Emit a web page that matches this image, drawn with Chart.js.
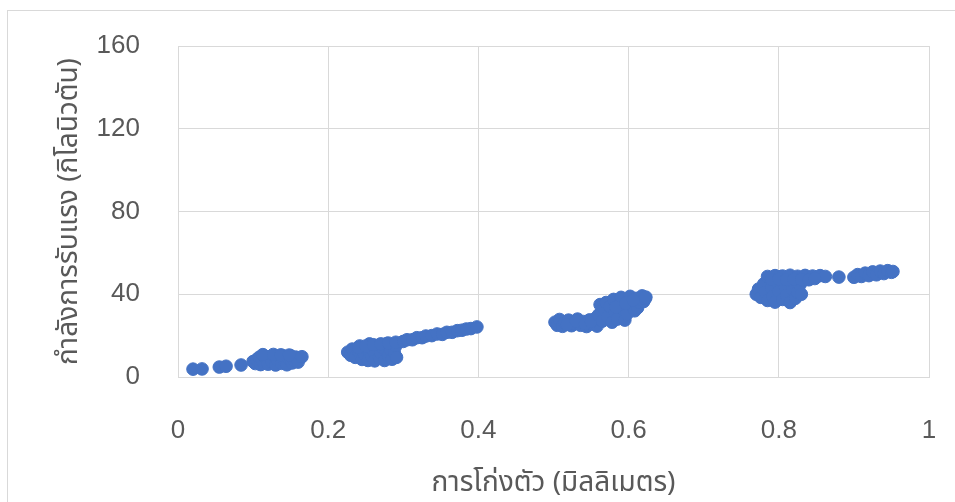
<!DOCTYPE html>
<html>
<head>
<meta charset="utf-8">
<script src="https://cdn.jsdelivr.net/npm/chart.js@4/dist/chart.umd.min.js"></script>
<style>
  html, body { margin: 0; padding: 0; background: #ffffff; }
  #wrap { width: 955px; height: 502px; position: relative; }
</style>
</head>
<body>
<div id="wrap"><canvas id="c" width="955" height="502"></canvas></div>
<script>
// Deflection (mm) and load capacity (kN), one entry per recorded reading
const deflectionMm = [
  // first loading stage
  0.020, 0.032, 0.055, 0.064, 0.084,
  0.100, 0.103, 0.105, 0.108, 0.110, 0.112, 0.115, 0.118, 0.120, 0.122,
  0.125, 0.128, 0.130, 0.132, 0.135, 0.138, 0.140, 0.142, 0.145, 0.147,
  0.150, 0.152, 0.155, 0.157, 0.160, 0.165,
  0.113, 0.127, 0.137, 0.148,
  // second loading stage
  0.226, 0.230, 0.232, 0.236, 0.240, 0.242, 0.245, 0.248, 0.250, 0.253,
  0.255, 0.258, 0.260, 0.262, 0.265, 0.268, 0.270, 0.272, 0.275, 0.278,
  0.280, 0.283, 0.285, 0.288, 0.290, 0.291,
  0.240, 0.250, 0.260, 0.270, 0.280, 0.290,
  0.300, 0.305, 0.312, 0.318, 0.325, 0.330, 0.338, 0.345, 0.352, 0.358,
  0.365, 0.372, 0.378, 0.384, 0.390, 0.398,
  // third loading stage
  0.502, 0.505, 0.508, 0.512, 0.515, 0.520, 0.524, 0.528, 0.532, 0.536,
  0.540, 0.544, 0.548, 0.552, 0.556, 0.558,
  0.518, 0.530, 0.542, 0.550,
  0.560, 0.562, 0.565, 0.568, 0.570, 0.572, 0.575, 0.578, 0.580, 0.582,
  0.585, 0.588, 0.590, 0.592, 0.595, 0.598, 0.600, 0.602, 0.605, 0.608,
  0.610, 0.612, 0.615, 0.618, 0.620, 0.622, 0.623,
  0.583, 0.596, 0.606,
  // fourth loading stage
  0.770, 0.773, 0.776, 0.780, 0.782, 0.785, 0.788, 0.790, 0.792, 0.795,
  0.798, 0.800, 0.802, 0.805, 0.808, 0.810, 0.812, 0.815, 0.818, 0.820,
  0.822, 0.825, 0.828, 0.830, 0.832,
  0.785, 0.795, 0.805, 0.815, 0.825, 0.835, 0.845, 0.855, 0.862,
  0.790, 0.800, 0.810, 0.820, 0.830,
  0.840, 0.848, 0.880,
  0.900, 0.905, 0.910, 0.915, 0.920, 0.925, 0.930, 0.935, 0.940, 0.945,
  0.950, 0.952
];

const forceKn = [
  // first loading stage
  3.8, 3.9, 4.8, 5.2, 5.8,
  7.5, 6.5, 8.5, 9.5, 6.0, 7.8, 10.0, 8.8, 6.2, 9.8,
  7.2, 10.4, 5.8, 8.4, 9.9, 6.6, 10.2, 7.6, 5.9, 9.0,
  10.3, 6.8, 8.0, 9.6, 7.2, 9.8,
  10.8, 10.9, 10.7, 10.6,
  // second loading stage
  12.0, 10.5, 13.5, 9.5, 12.5, 15.0, 8.5, 11.0, 14.0, 8.0,
  16.0, 10.0, 12.8, 7.8, 15.2, 9.2, 11.6, 14.4, 8.0, 16.2,
  10.4, 13.0, 8.6, 11.8, 15.0, 9.5,
  14.2, 15.0, 15.6, 16.0, 16.4, 16.8,
  17.2, 18.0, 18.0, 19.0, 19.0, 19.8, 20.0, 20.8, 20.6, 21.6,
  21.6, 22.4, 22.6, 23.2, 23.4, 24.2,
  // third loading stage
  26.5, 25.0, 27.8, 24.5, 26.2, 27.5, 24.8, 26.0, 28.0, 25.0,
  26.8, 24.4, 27.6, 25.6, 28.4, 24.6,
  25.4, 27.0, 25.8, 26.8,
  30.0, 35.0, 27.0, 32.5, 36.0, 29.0, 34.0, 26.5, 37.5, 31.0,
  28.0, 35.5, 38.5, 33.0, 27.5, 30.5, 37.0, 39.0, 34.5, 32.0,
  38.0, 33.5, 36.0, 39.2, 36.5, 37.8, 38.6,
  33.8, 35.8, 37.2,
  // fourth loading stage
  40.0, 42.5, 38.5, 45.0, 41.0, 37.0, 47.5, 43.0, 39.0, 36.2,
  45.8, 41.5, 48.5, 37.5, 44.0, 39.5, 47.0, 36.0, 42.5, 45.5,
  38.0, 41.0, 44.5, 40.0, 46.5,
  48.6, 49.0, 48.8, 49.2, 48.7, 49.1, 48.8, 49.0, 48.6,
  47.2, 47.4, 47.0, 47.3, 47.1,
  47.0, 47.6, 48.3,
  48.2, 49.5, 48.6, 50.2, 49.0, 50.8, 49.4, 51.2, 50.0, 51.4,
  50.6, 51.0
];

const xTickValues = [0, 0.2, 0.4, 0.6, 0.8, 1];
const yTickValues = [0, 40, 80, 120, 160];

const xTitle = 'การโก่งตัว (มิลลิเมตร)';
const yTitle = 'กำลังการรับแรง (กิโลนิวตัน)';

const points = deflectionMm.map((x, i) => ({ x: x, y: forceKn[i] }));

const tickFont = { family: "'Liberation Sans', sans-serif", size: 26 };
const titleFont = { family: "'Noto Sans Thai', 'Noto Sans', 'Liberation Sans', sans-serif", size: 28 };
const textColor = '#595959';
const gridColor = '#d9d9d9';

// outer frame of the chart area
const framePlugin = {
  id: 'frame',
  beforeDraw(chart) {
    const ctx = chart.ctx;
    ctx.save();
    ctx.fillStyle = '#ffffff';
    ctx.fillRect(0, 0, chart.width, chart.height);
    ctx.strokeStyle = '#d9d9d9';
    ctx.lineWidth = 1;
    ctx.strokeRect(7.5, 10.5, 1000, 600);
    ctx.restore();
  }
};

new Chart(document.getElementById('c'), {
  type: 'scatter',
  data: {
    datasets: [{
      data: points,
      backgroundColor: '#4472C4',
      borderColor: '#4472C4',
      borderWidth: 1,
      pointRadius: 6.3,
      pointHoverRadius: 6.3
    }]
  },
  options: {
    responsive: false,
    animation: false,
    devicePixelRatio: 1,
    layout: { padding: { left: 0, top: 46, right: 26, bottom: 0 } },
    plugins: {
      legend: { display: false },
      tooltip: { enabled: false }
    },
    scales: {
      x: {
        type: 'linear',
        min: 0,
        max: 1,
        afterBuildTicks: s => { s.ticks = xTickValues.map(v => ({ value: v })); },
        afterFit: s => { s.height = 125; },
        grid: { color: gridColor, drawTicks: true, tickLength: 36, tickColor: 'rgba(0,0,0,0)' },
        border: { color: gridColor },
        ticks: {
          color: textColor,
          font: tickFont,
          padding: 2,
          maxRotation: 0,
          callback: v => String(v)
        },
        title: {
          display: true,
          text: xTitle,
          color: textColor,
          font: titleFont,
          padding: { top: 0, bottom: 0 }
        }
      },
      y: {
        type: 'linear',
        min: 0,
        max: 160,
        afterBuildTicks: s => { s.ticks = yTickValues.map(v => ({ value: v })); },
        afterFit: s => { s.width = 178; },
        grid: { color: gridColor, drawTicks: true, tickLength: 36, tickColor: 'rgba(0,0,0,0)' },
        border: { color: gridColor },
        ticks: {
          color: textColor,
          font: tickFont,
          padding: 2,
          callback: v => String(v)
        },
        title: {
          display: true,
          text: yTitle,
          color: textColor,
          font: titleFont,
          padding: { top: 55, bottom: 0 }
        }
      }
    }
  },
  plugins: [framePlugin]
});
</script>
</body>
</html>
